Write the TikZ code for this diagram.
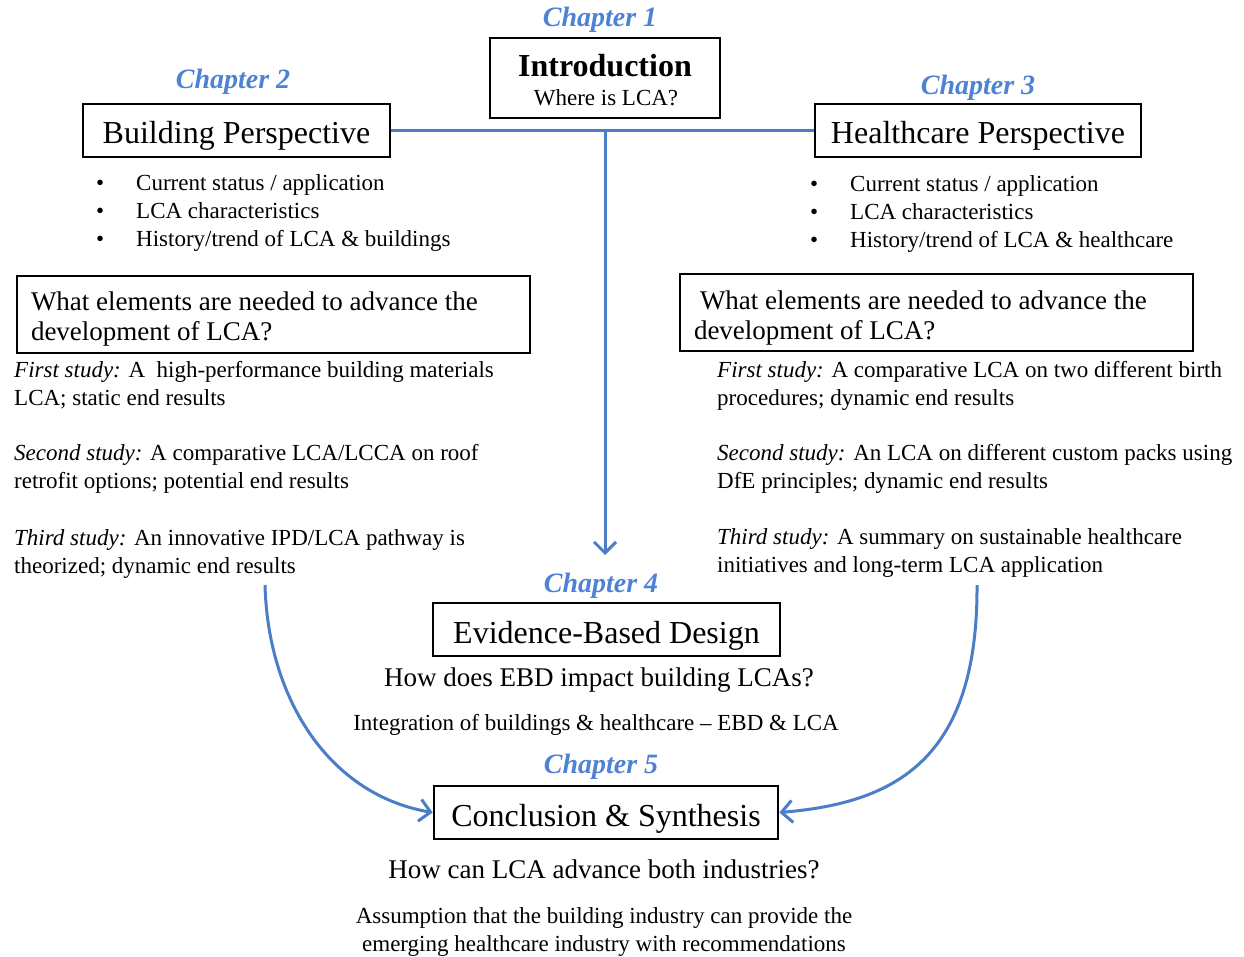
\documentclass[tikz,border=0pt]{standalone}
\usepackage{fontspec}
\setmainfont{Liberation Serif}
\usetikzlibrary{arrows.meta}
\definecolor{linkblue}{HTML}{4A7EC6}
\definecolor{chapblue}{HTML}{4F82D2}
\tikzset{
  chap/.style={font=\fontsize{28}{34}\selectfont\bfseries\itshape, text=chapblue, anchor=base, inner sep=0pt},
  titlebox/.style={draw, line width=2.6pt, font=\fontsize{32}{38}\selectfont, inner sep=0pt,
    text height=29pt, text depth=2pt},
  qbox/.style={draw, line width=2.6pt, font=\fontsize{27}{30}\selectfont, align=left, inner ysep=0pt,
    text width=485pt, inner xsep=14pt, minimum height=77pt},
  body/.style={font=\fontsize{23}{28}\selectfont, inner sep=0pt, anchor=base west, align=left},
  mid/.style={font=\fontsize{23}{28}\selectfont, inner sep=0pt, anchor=base},
  ask/.style={font=\fontsize{27}{32}\selectfont, inner sep=0pt, anchor=base},
  link/.style={draw=linkblue, line width=3pt},
  tip/.style={-{Straight Barb[length=11pt,width=22pt,line width=3pt]}},
}
\newcommand{\bulletitem}{\makebox[40pt][l]{\textbullet}}
% keep the font's own word spacing inside ragged boxes
\newcommand{\plainspaces}{\spaceskip=0pt\xspaceskip=0pt}
\begin{document}
\begin{tikzpicture}[x=1pt,y=-1pt]
\useasboundingbox (0,0) rectangle (1244,957);

% chapter 1: introduction
\node[chap] (ch1) at (600,27) {Chapter 1};
\node[draw, line width=2.6pt, minimum width=230pt, minimum height=80pt, inner sep=0pt] (intro) at (605,78) {};
\node[anchor=base, inner sep=0pt, font=\fontsize{32}{38}\selectfont\bfseries] (introtitle) at (605,76.5) {Introduction};
\node[mid] (introsub) at (606,105.5) {Where is LCA?};

% chapter 2: building perspective
% (the base anchor of a multi-line node sits on its last line)
\node[chap] (ch2) at (233,89) {Chapter 2};
\node[titlebox, minimum width=307pt, minimum height=53pt] (bp) at (236.5,130.5) {Building Perspective};
\node[body] (bplist) at (96,247) {\bulletitem Current status / application\\
  \bulletitem LCA characteristics\\
  \bulletitem History/trend of LCA \& buildings};
\node[qbox] (bpq) at (273.5,314.5)
  {\plainspaces\rule{0pt}{27pt}What elements are needed to advance the\\development of LCA?};
\node[body] (bps1) at (14,405) {\textit{First study:} A~ high-performance building materials\\LCA; static end results};
\node[body] (bps2) at (14,488) {\textit{Second study:} A comparative LCA/LCCA on roof\\retrofit options; potential end results};
\node[body] (bps3) at (14,573) {\textit{Third study:} An innovative IPD/LCA pathway is\\theorized; dynamic end results};

% chapter 3: healthcare perspective
\node[chap] (ch3) at (978,95) {Chapter 3};
\node[titlebox, minimum width=326pt, minimum height=53pt] (hp) at (978,130.5) {Healthcare Perspective};
\node[body] (hplist) at (810,248) {\bulletitem Current status / application\\
  \bulletitem LCA characteristics\\
  \bulletitem History/trend of LCA \& healthcare};
\node[qbox] (hpq) at (936.5,312.5)
  {\plainspaces\rule{0pt}{29pt}\hspace*{6pt}What elements are needed to advance the\\development of LCA?};
\node[body] (hps1) at (717,405) {\textit{First study:} A comparative LCA on two different birth\\procedures; dynamic end results};
\node[body] (hps2) at (717,488) {\textit{Second study:} An LCA on different custom packs using\\DfE principles; dynamic end results};
\node[body] (hps3) at (717,572) {\textit{Third study:} A summary on sustainable healthcare\\initiatives and long-term LCA application};

% chapter 4: evidence-based design
\node[chap] (ch4) at (601,592) {Chapter 4};
\node[titlebox, minimum width=347pt, minimum height=53pt] (ebd) at (606.5,629.5) {Evidence-Based Design};
\node[ask] (ebdq) at (599,686) {How does EBD impact building LCAs?};
\node[mid] (ebdnote) at (596,730) {Integration of buildings \& healthcare -- EBD \& LCA};

% chapter 5: conclusion
\node[chap] (ch5) at (601,773) {Chapter 5};
\node[titlebox, minimum width=344pt, minimum height=53pt] (cs) at (606,812.5) {Conclusion \& Synthesis};
\node[ask] (csq) at (604,878) {How can LCA advance both industries?};
\node[mid] (csnote1) at (604,923) {Assumption that the building industry can provide the};
\node[mid] (csnote2) at (604,951) {emerging healthcare industry with recommendations};

% connectors
\coordinate (junction) at (intro.south |- bp.east);
\coordinate (downtip) at (605,555);
\coordinate (leftstart) at (265,585);
\coordinate (rightstart) at (977,585);
\draw[link] (bp.east) -- (hp.west);
\draw[link, tip] (junction) -- (downtip);
\draw[link, tip] (leftstart) .. controls (268,700) and (330,795) .. (cs.west);
\draw[link, tip] (rightstart) .. controls (978,760) and (895,803) .. (cs.east);
\end{tikzpicture}
\end{document}
